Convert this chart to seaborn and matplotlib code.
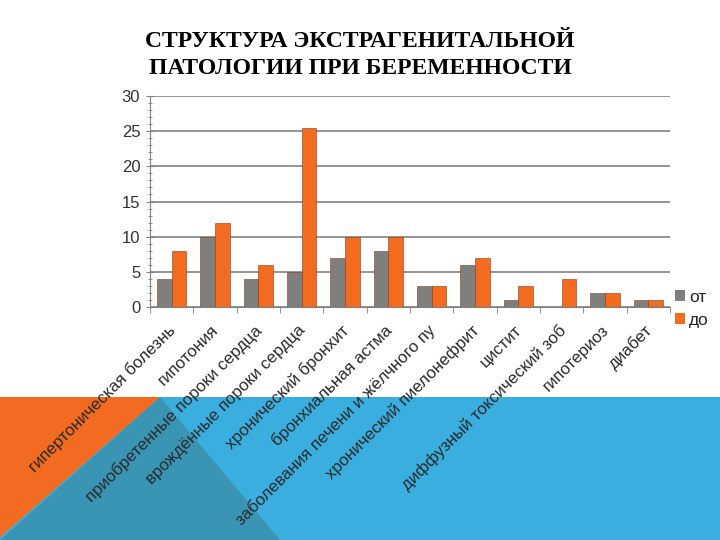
import numpy as np
import pandas as pd
import matplotlib
matplotlib.use("Agg")
import matplotlib.pyplot as plt
import matplotlib.transforms as mtransforms
from matplotlib.patches import Polygon
from matplotlib.ticker import MultipleLocator, FixedLocator
import seaborn as sns

# data
categories = [
    "гипертоническая болезнь",
    "гипотония",
    "приобретенные пороки сердца",
    "врождённые пороки сердца",
    "хронический бронхит",
    "бронхиальная астма",
    "заболевания печени и жёлчного пу",
    "хронический пиелонефрит",
    "цистит",
    "диффузный токсический зоб",
    "гипотериоз",
    "диабет",
]
values_ot = [4, 10, 4, 5, 7, 8, 3, 6, 1, 0, 2, 1]
values_do = [8, 12, 6, 25.5, 10, 10, 3, 7, 3, 4, 2, 1]
series_names = ["от", "до"]

df = pd.DataFrame({
    "cat": categories * 2,
    "val": values_ot + values_do,
    "series": [series_names[0]] * len(categories) + [series_names[1]] * len(categories),
})

sns.set_style("white")
plt.rcParams["font.family"] = ["Liberation Sans", "DejaVu Sans"]

fig = plt.figure(figsize=(7.2, 5.4), dpi=100)
fig.patch.set_facecolor("white")

# decorative slide background at the bottom (behind everything)
band_top = 1 - 397 / 540
fig.patches.append(Polygon([[0, 0], [1, 0], [1, band_top], [0, band_top]], closed=True,
                           transform=fig.transFigure, facecolor="#3AAFDF", edgecolor="none", zorder=-3))
fig.patches.append(Polygon([[160 / 720, band_top], [280 / 720, 0], [0, 0]], closed=True,
                           transform=fig.transFigure, facecolor="#3A94B3", edgecolor="none", zorder=-2))
fig.patches.append(Polygon([[0, band_top], [160 / 720, band_top], [0, 0.005]], closed=True,
                           transform=fig.transFigure, facecolor="#F26B21", edgecolor="none", zorder=-1))

fig.text(0.5, 1 - 42 / 540, "СТРУКТУРА ЭКСТРАГЕНИТАЛЬНОЙ", ha="center", va="center",
         fontsize=17, fontweight="bold", color="black", family=["Liberation Serif", "DejaVu Serif"])
fig.text(0.5, 1 - 68 / 540, "ПАТОЛОГИИ ПРИ БЕРЕМЕННОСТИ", ha="center", va="center",
         fontsize=17, fontweight="bold", color="black", family=["Liberation Serif", "DejaVu Serif"])

ax = fig.add_axes([150 / 720, 1 - 307 / 540, 520 / 720, 211 / 540])
ax.patch.set_alpha(0)

sns.barplot(data=df, x="cat", y="val", hue="series", order=categories,
            hue_order=series_names, palette=["#7F7F7F", "#F26B21"],
            width=0.68, gap=0, saturation=1, edgecolor="#8a3a10", linewidth=0.4,
            ax=ax, legend=True)

ax.set_ylim(0, 30)
ax.set_xlim(-0.5, len(categories) - 0.5)
ax.yaxis.set_major_locator(MultipleLocator(5))
ax.yaxis.set_minor_locator(MultipleLocator(1))
ax.grid(axis="y", color="#8C8C8C", linewidth=1.3)
ax.set_axisbelow(True)
ax.set_xlabel("")
ax.set_ylabel("")

for side in ["top", "right"]:
    ax.spines[side].set_visible(False)
ax.spines["left"].set_color("#808080")
ax.spines["bottom"].set_color("#808080")

ax.tick_params(axis="y", which="major", direction="inout", length=6, color="#808080",
               labelsize=12, labelcolor="#333333", left=True, pad=4)
ax.tick_params(axis="y", which="minor", direction="inout", length=3, color="#808080", left=True)
ax.xaxis.set_minor_locator(FixedLocator(np.arange(-0.5, len(categories), 1.0)))
ax.tick_params(axis="x", which="major", length=0, labelsize=12.2, labelcolor="#2a2a2a", pad=11)
ax.tick_params(axis="x", which="minor", direction="out", length=4, color="#808080", bottom=True)
shift = mtransforms.ScaledTranslation(-4 / 100, 0, fig.dpi_scale_trans)
for lbl in ax.get_xticklabels():
    lbl.set_rotation(45)
    lbl.set_ha("right")
    lbl.set_rotation_mode("anchor")
    lbl.set_transform(lbl.get_transform() + shift)

leg = ax.legend(loc="upper left", bbox_to_anchor=(675 / 720, 1 - 290 / 540),
                bbox_transform=fig.transFigure, frameon=False, fontsize=12.5,
                handlelength=0.6, handleheight=0.6, handletextpad=0.2, labelspacing=0.45,
                borderaxespad=0, borderpad=0)
for h in leg.legend_handles:
    h.set_edgecolor("none")

fig.savefig("out.png", dpi=100, facecolor=fig.get_facecolor())
